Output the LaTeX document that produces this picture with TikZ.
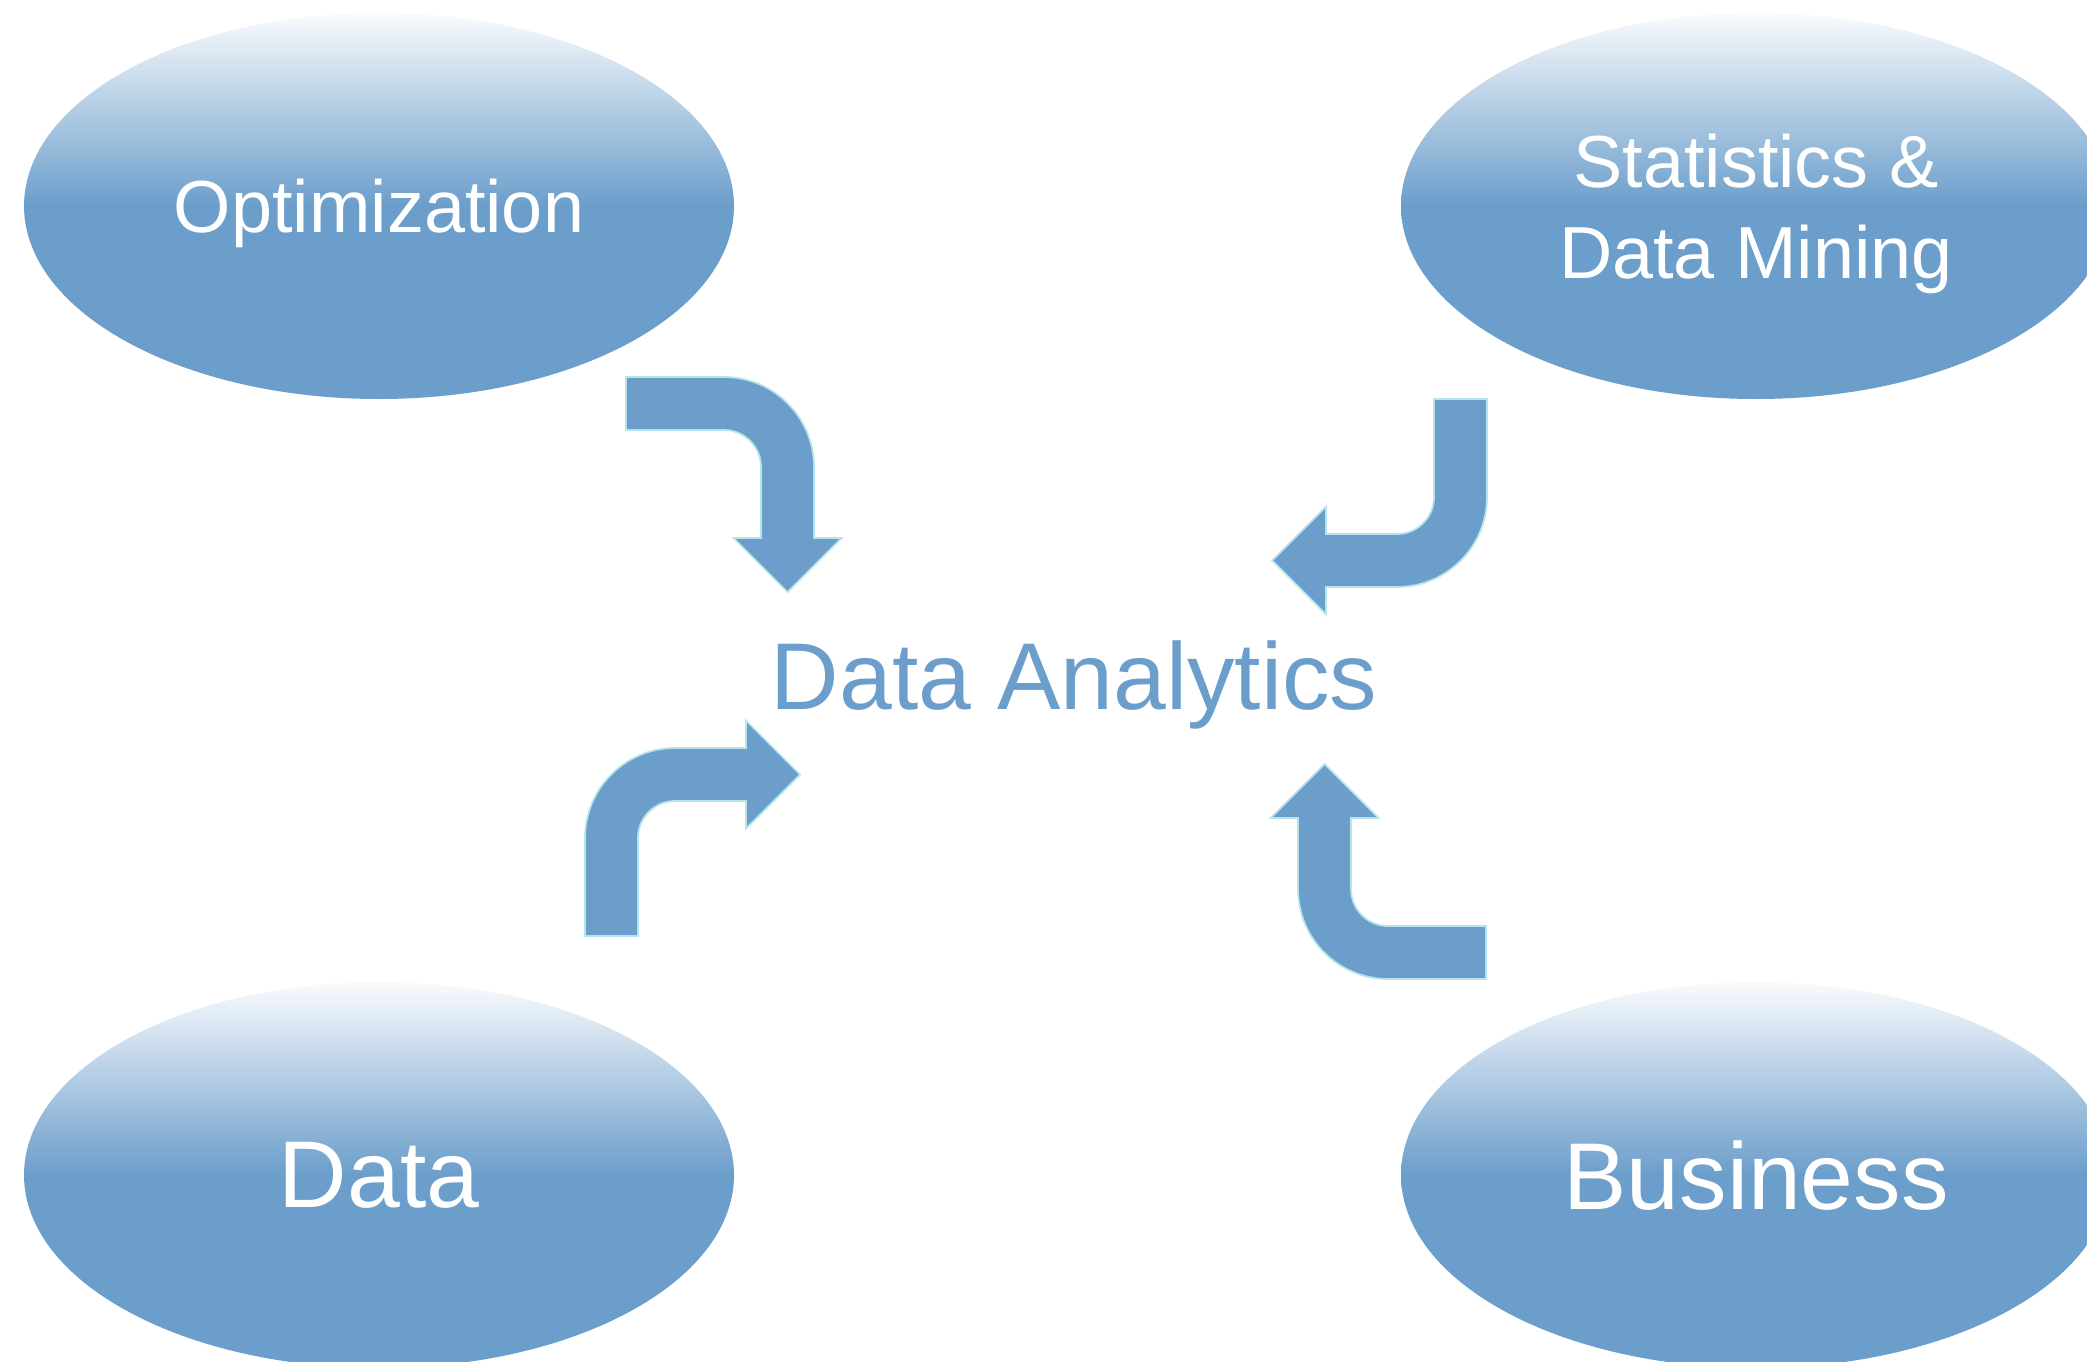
\documentclass[tikz,border=0pt]{standalone}
\usepackage{fontspec}
\setmainfont{Liberation Sans}
\usetikzlibrary{shapes.geometric}
\definecolor{dablue}{RGB}{107,158,203}
\definecolor{daedge}{RGB}{184,228,236}
\tikzset{
  bubble/.style={ellipse, minimum width=7.1cm, minimum height=3.86cm, inner sep=0pt,
    top color=dablue!4, bottom color=dablue, middle color=dablue,
    text=white, align=center, text depth=0pt},
  smalltxt/.style={font=\fontsize{21}{25.9}\selectfont},
  bigtxt/.style={font=\fontsize{27}{32}\selectfont},
  bentarrow/.pic={
    \filldraw[fill=dablue, draw=daedge, line width=0.5pt] (-0.98,0.90) -- (0,0.90) arc (90:0:0.90)
      -- (0.90,-0.71) -- (1.175,-0.71) -- (0.635,-1.25) -- (0.095,-0.71) -- (0.37,-0.71)
      -- (0.37,0) arc (0:90:0.37) -- (-0.98,0.37) -- cycle;
  }
}
\begin{document}
\begin{tikzpicture}[scale=1]
    \useasboundingbox (0,0) rectangle (20.87,13.61);
    \clip (0,0) rectangle (20.87,13.61);
    % the four fields
    \node[bubble, smalltxt] (optim) at (3.79,11.55) {Optimization};
    \node[bubble, smalltxt, text depth=-4pt] (stats) at (17.56,11.55) {Statistics \&\\Data Mining};
    \node[bubble, bigtxt] (data) at (3.79,1.86) {Data};
    \node[bubble, bigtxt] (business) at (17.56,1.86) {Business};
    % centre
    \node[bigtxt, text=dablue, anchor=base] (analytics) at (10.74,6.52) {Data Analytics};
    % bent arrows pointing in
    \pic at (7.24,8.94) {bentarrow};
    \pic[rotate=-90] at (13.97,8.64) {bentarrow};
    \pic[rotate=90] at (6.75,5.23) {bentarrow};
    \pic[rotate=180] at (13.88,4.72) {bentarrow};
\end{tikzpicture}
\end{document}
